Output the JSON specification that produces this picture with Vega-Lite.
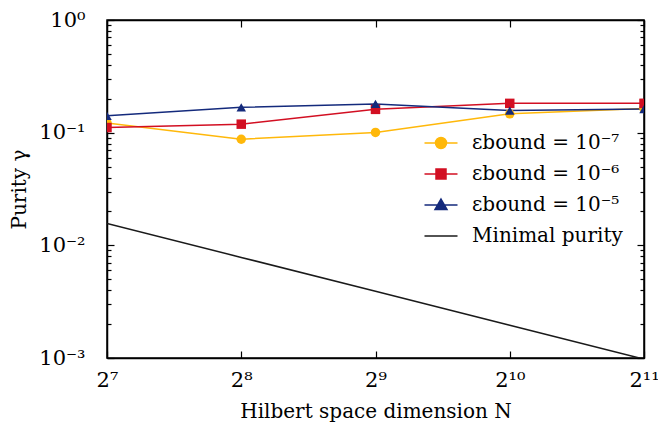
{
  "$schema": "https://vega.github.io/schema/vega-lite/v6.json",
  "width": 537,
  "height": 338,
  "autosize": "none",
  "padding": {"left": 107, "top": 20, "right": 14, "bottom": 70},
  "background": "white",
  "config": {
    "font": "DejaVu Serif",
    "view": {"stroke": "black", "strokeWidth": 1.5},
    "axis": {
      "labelFont": "DejaVu Serif",
      "titleFont": "DejaVu Serif",
      "labelColor": "black",
      "titleColor": "black",
      "domainColor": "black",
      "domainWidth": 1.5,
      "tickColor": "black",
      "tickWidth": 1.2,
      "grid": false,
      "labelFontSize": 21,
      "titleFontSize": 20,
      "titleFontWeight": "normal"
    }
  },
  "data": {
    "values": [
      {"N": 128, "purity": 0.122, "series": "εbound = 10⁻⁷"},
      {"N": 256, "purity": 0.0874, "series": "εbound = 10⁻⁷"},
      {"N": 512, "purity": 0.1005, "series": "εbound = 10⁻⁷"},
      {"N": 1024, "purity": 0.147, "series": "εbound = 10⁻⁷"},
      {"N": 2048, "purity": 0.164, "series": "εbound = 10⁻⁷"},
      {"N": 128, "purity": 0.111, "series": "εbound = 10⁻⁶"},
      {"N": 256, "purity": 0.119, "series": "εbound = 10⁻⁶"},
      {"N": 512, "purity": 0.161, "series": "εbound = 10⁻⁶"},
      {"N": 1024, "purity": 0.182, "series": "εbound = 10⁻⁶"},
      {"N": 2048, "purity": 0.182, "series": "εbound = 10⁻⁶"},
      {"N": 128, "purity": 0.141, "series": "εbound = 10⁻⁵"},
      {"N": 256, "purity": 0.168, "series": "εbound = 10⁻⁵"},
      {"N": 512, "purity": 0.180, "series": "εbound = 10⁻⁵"},
      {"N": 1024, "purity": 0.157, "series": "εbound = 10⁻⁵"},
      {"N": 2048, "purity": 0.162, "series": "εbound = 10⁻⁵"},
      {"N": 128, "purity": 0.015625, "series": "Minimal purity"},
      {"N": 256, "purity": 0.0078125, "series": "Minimal purity"},
      {"N": 512, "purity": 0.00390625, "series": "Minimal purity"},
      {"N": 1024, "purity": 0.001953125, "series": "Minimal purity"},
      {"N": 2048, "purity": 0.0009765625, "series": "Minimal purity"}
    ]
  },
  "layer": [
    {
      "mark": {"type": "line", "strokeWidth": 1.5, "clip": true},
      "encoding": {
        "x": {
          "field": "N", "type": "quantitative",
          "scale": {"type": "log", "base": 2, "domain": [128, 2048], "nice": false},
          "axis": {
            "orient": "bottom",
            "title": "Hilbert space dimension N",
            "values": [128, 256, 512, 1024, 2048],
            "labelExpr": "datum.value==128?'2⁷':datum.value==256?'2⁸':datum.value==512?'2⁹':datum.value==1024?'2¹⁰':'2¹¹'",
            "tickSize": -7,
            "labelPadding": 18,
            "labelFlush": false,
            "labelOverlap": false,
            "titlePadding": 11
          }
        },
        "y": {
          "field": "purity", "type": "quantitative",
          "scale": {"type": "log", "domain": [0.001, 1], "nice": false},
          "axis": {
            "orient": "left",
            "title": "Purity γ",
            "values": [0.001,0.002,0.003,0.004,0.005,0.006,0.007,0.008,0.009,0.01,0.02,0.03,0.04,0.05,0.06,0.07,0.08,0.09,0.1,0.2,0.3,0.4,0.5,0.6,0.7,0.8,0.9,1],
            "labelExpr": "datum.value==1?'10⁰':datum.value==0.1?'10⁻¹':datum.value==0.01?'10⁻²':datum.value==0.001?'10⁻³':''",
            "tickSize": {"condition": {"test": "datum.value==1||datum.value==0.1||datum.value==0.01||datum.value==0.001", "value": -7}, "value": -4},
            "labelPadding": 29,
            "labelOverlap": false,
            "titlePadding": 9
          }
        },
        "color": {
          "field": "series", "type": "nominal",
          "scale": {
            "domain": ["εbound = 10⁻⁷", "εbound = 10⁻⁶", "εbound = 10⁻⁵", "Minimal purity"],
            "range": ["#ffb80a", "#d20f22", "#142a7c", "#1a1a1a"]
          },
          "legend": {
            "title": null,
            "orient": "none",
            "legendX": 323,
            "legendY": 112,
            "labelFont": "DejaVu Serif",
            "labelFontSize": 20,
            "labelColor": "black",
            "symbolSize": 400,
            "labelOffset": 20,
            "rowPadding": 10,
            "padding": 0,
            "encode": {
              "symbols": {
                "update": {
                  "shape": {"signal": "datum.value=='εbound = 10⁻⁷' ? 'M-1.65,0H1.65M0.55,0A0.55,0.55,0,1,1,-0.55,0A0.55,0.55,0,1,1,0.55,0Z' : datum.value=='εbound = 10⁻⁶' ? 'M-1.65,0H1.65M-0.5,-0.5H0.5V0.5H-0.5Z' : datum.value=='εbound = 10⁻⁵' ? 'M-1.65,0H1.65M0,-0.6L0.6,0.45H-0.6Z' : 'M-1.65,0H1.65'"},
                  "fill": {"scale": "color", "field": "value"},
                  "stroke": {"scale": "color", "field": "value"},
                  "strokeWidth": {"value": 1.5},
                  "opacity": {"value": 1},
                  "fillOpacity": {"value": 1}
                }
              }
            }
          }
        }
      }
    },
    {
      "transform": [{"filter": "datum.series != 'Minimal purity'"}],
      "mark": {"type": "point", "filled": true, "opacity": 1, "size": 90, "clip": true},
      "encoding": {
        "x": {
          "field": "N", "type": "quantitative",
          "scale": {"type": "log", "base": 2, "domain": [128, 2048], "nice": false},
          "axis": {
            "orient": "top",
            "title": null,
            "values": [128, 256, 512, 1024, 2048],
            "labels": false,
            "tickSize": -7
          }
        },
        "y": {
          "field": "purity", "type": "quantitative",
          "scale": {"type": "log", "domain": [0.001, 1], "nice": false},
          "axis": {
            "orient": "right",
            "title": null,
            "values": [0.001,0.002,0.003,0.004,0.005,0.006,0.007,0.008,0.009,0.01,0.02,0.03,0.04,0.05,0.06,0.07,0.08,0.09,0.1,0.2,0.3,0.4,0.5,0.6,0.7,0.8,0.9,1],
            "labels": false,
            "tickSize": {"condition": {"test": "datum.value==1||datum.value==0.1||datum.value==0.01||datum.value==0.001", "value": -7}, "value": -4}
          }
        },
        "color": {"field": "series", "type": "nominal", "legend": null},
        "shape": {
          "field": "series", "type": "nominal",
          "scale": {
            "domain": ["εbound = 10⁻⁷", "εbound = 10⁻⁶", "εbound = 10⁻⁵"],
            "range": ["circle", "square", "triangle-up"]
          },
          "legend": null
        }
      }
    }
  ],
  "resolve": {"axis": {"x": "independent", "y": "independent"}}
}
